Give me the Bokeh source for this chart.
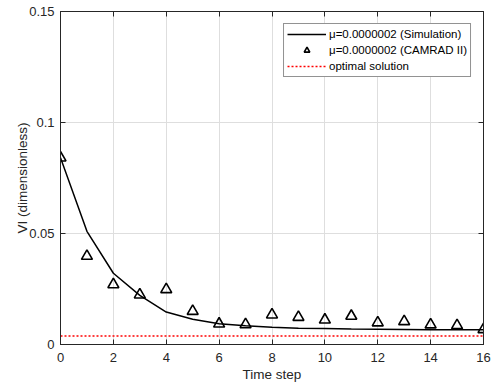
from bokeh.plotting import figure
from bokeh.models import LinearAxis, FixedTicker, Range1d, Legend, LegendItem
from bokeh.embed import file_html
from bokeh.resources import INLINE

# ---- data ----
steps = list(range(17))
sim_vi = [0.0841, 0.0510, 0.0321, 0.0221, 0.0146, 0.0114, 0.0093, 0.0084, 0.0078,
          0.0073, 0.0072, 0.0070, 0.0069, 0.0068, 0.0067, 0.0067, 0.0066]
camrad_vi = [0.0841, 0.0398, 0.0270, 0.0224, 0.0248, 0.0150, 0.0093, 0.0090, 0.0134,
             0.0123, 0.0111, 0.0128, 0.0098, 0.0104, 0.0089, 0.0086, 0.0068]
optimal_vi = 0.0038
optimal_x = [0, 16]
x_ticks = [0, 2, 4, 6, 8, 10, 12, 14, 16]
y_ticks = [0, 0.05, 0.1, 0.15]
y_tick_labels = {0: "0", 0.05: "0.05", 0.1: "0.1", 0.15: "0.15"}
labels = ["\u03bc=0.0000002 (Simulation)", "\u03bc=0.0000002 (CAMRAD II)", "optimal solution"]

FONT = "Liberation Sans"
TXT = "#262626"

p = figure(width=496, height=384, output_backend="svg", toolbar_location=None,
           x_range=Range1d(0, 16), y_range=Range1d(0, 0.15),
           min_border_left=60, min_border_right=13, min_border_top=11, min_border_bottom=40)
p.background_fill_color = "white"
p.border_fill_color = "white"
p.outline_line_color = TXT
p.outline_line_width = 1

for ax in (p.xaxis[0], p.yaxis[0]):
    ax.major_label_text_font = FONT
    ax.major_label_text_font_size = "13px"
    ax.major_label_text_color = TXT
    ax.axis_label_text_font = FONT
    ax.axis_label_text_font_size = "13.5px"
    ax.axis_label_text_font_style = "normal"
    ax.axis_label_text_color = TXT
    ax.axis_line_color = TXT
    ax.major_tick_line_color = TXT
    ax.major_tick_in = 5
    ax.major_tick_out = 0
    ax.minor_tick_line_color = None

p.xaxis.ticker = FixedTicker(ticks=x_ticks)
p.yaxis.ticker = FixedTicker(ticks=y_ticks)
p.yaxis.major_label_overrides = y_tick_labels
p.xaxis.axis_label = "Time step"
p.yaxis.axis_label = "VI (dimensionless)"
p.xaxis.major_label_standoff = 8
p.yaxis.major_label_standoff = 6
p.xaxis.axis_label_standoff = 2
p.yaxis.axis_label_standoff = -4

# top and right ticks (no labels drawn)
top = LinearAxis(ticker=FixedTicker(ticks=x_ticks), major_label_text_color=None,
                 major_label_text_font_size="1px", major_label_standoff=0,
                 axis_line_color=TXT, major_tick_line_color=TXT, major_tick_in=5,
                 major_tick_out=0, minor_tick_line_color=None)
right = LinearAxis(ticker=FixedTicker(ticks=y_ticks), major_label_text_color=None,
                   major_label_text_font_size="1px", major_label_standoff=0,
                   axis_line_color=TXT, major_tick_line_color=TXT, major_tick_in=5,
                   major_tick_out=0, minor_tick_line_color=None)
p.add_layout(top, "above")
p.add_layout(right, "right")

p.xgrid.ticker = FixedTicker(ticks=x_ticks)
p.ygrid.ticker = FixedTicker(ticks=y_ticks)
p.grid.grid_line_color = "#dedede"
p.grid.grid_line_width = 1

r_sim = p.line(steps, sim_vi, line_color="black", line_width=1.5)
r_cam = p.scatter(steps, camrad_vi, marker="triangle", size=11, fill_color=None,
                  line_color="black", line_width=1.6)
r_opt = p.line(optimal_x, [optimal_vi, optimal_vi], line_color="red", line_width=1.5,
               line_dash="2 2")

legend = Legend(items=[LegendItem(label=labels[0], renderers=[r_sim]),
                       LegendItem(label=labels[1], renderers=[r_cam]),
                       LegendItem(label=labels[2], renderers=[r_opt])],
                location="top_right")
legend.label_text_font = FONT
legend.label_text_font_size = "11.5px"
legend.label_text_color = "black"
legend.glyph_width = 39
legend.glyph_height = 14
legend.label_height = 14
legend.label_standoff = 3
legend.spacing = 2
legend.padding = 3
legend.margin = 12
legend.border_line_color = TXT
legend.border_line_width = 1
legend.background_fill_color = "white"
legend.background_fill_alpha = 1
p.add_layout(legend)

open("out.html", "w").write(file_html(p, INLINE))
